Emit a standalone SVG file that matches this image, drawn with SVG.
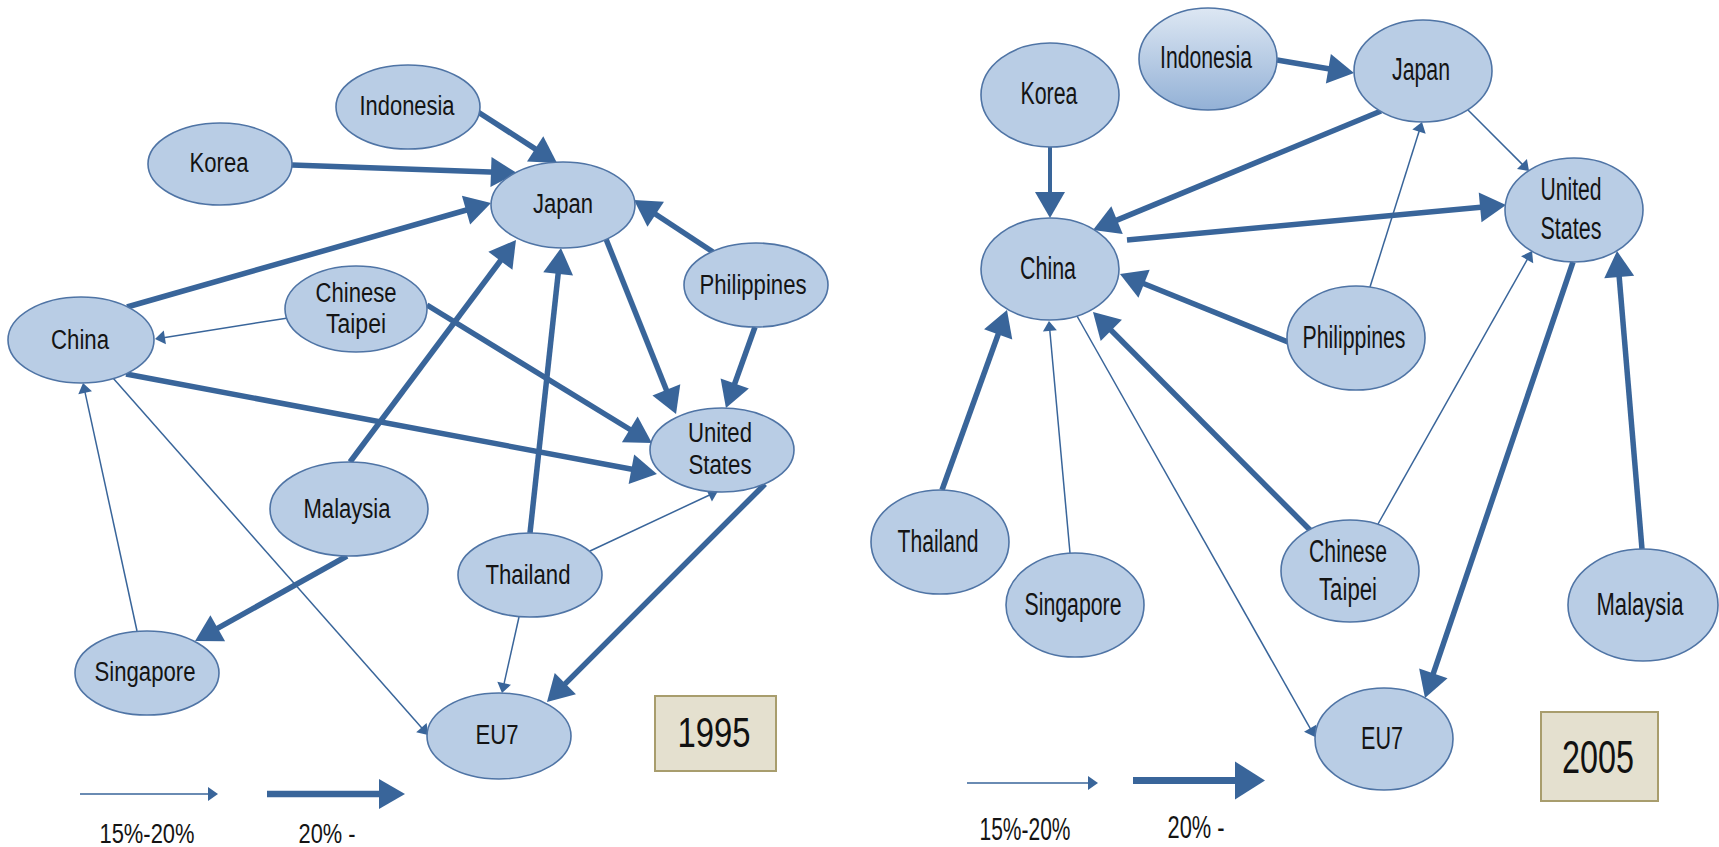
<svg xmlns="http://www.w3.org/2000/svg" width="1719" height="847" viewBox="0 0 1719 847">
<style>
.node{fill:#b9cde5;stroke:#4f74a5;stroke-width:1.6}
.lbl{font-family:"Liberation Sans",Arial,sans-serif;font-size:27px;fill:#141414;text-anchor:middle}
.lbr{font-family:"Liberation Sans",Arial,sans-serif;font-size:31px;fill:#141414;text-anchor:middle}
.thick{stroke:#39659a;stroke-width:5.5;fill:none;marker-end:url(#hThick)}
.thin{stroke:#39659a;stroke-width:1.5;fill:none;marker-end:url(#hThin)}
.year{fill:#e4e0cf;stroke:#a89d6d;stroke-width:2}
.yt{font-family:"Liberation Sans",Arial,sans-serif;fill:#111;text-anchor:middle}
</style>
<defs>
<marker id="hThick" markerUnits="userSpaceOnUse" markerWidth="26" markerHeight="30" refX="6" refY="15" orient="auto" overflow="visible">
<path d="M0,0 L26,15 L0,30 Z" fill="#39659a"/>
</marker>
<marker id="hBig" markerUnits="userSpaceOnUse" markerWidth="30" markerHeight="38" refX="6" refY="19" orient="auto" overflow="visible">
<path d="M0,0 L30,19 L0,38 Z" fill="#39659a"/>
</marker>
<marker id="hThin" markerUnits="userSpaceOnUse" markerWidth="10" markerHeight="14" refX="3" refY="7" orient="auto" overflow="visible">
<path d="M0,0 L10,7 L0,14 Z" fill="#39659a"/>
</marker>
<linearGradient id="gInd" x1="0" y1="0" x2="0" y2="1">
<stop offset="0" stop-color="#dde7f3"/>
<stop offset="1" stop-color="#93b1d6"/>
</linearGradient>
</defs>
<rect width="1719" height="847" fill="#ffffff"/>

<g id="connectors">
<!-- 1995 -->
<line class="thick" x1="478" y1="112" x2="540.2" y2="152.1"/>
<line class="thick" x1="292" y1="165" x2="497" y2="172.3"/>
<line class="thick" x1="127" y1="307" x2="471.8" y2="208.5"/>
<line class="thin" x1="288" y1="318" x2="161.9" y2="337.9"/>
<line class="thick" x1="427" y1="305" x2="634.9" y2="432.5"/>
<line class="thick" x1="713" y1="252" x2="650.7" y2="211"/>
<line class="thick" x1="606" y1="239" x2="668.6" y2="395.4"/>
<line class="thick" x1="755" y1="327" x2="732.7" y2="389.2"/>
<line class="thick" x1="126" y1="374" x2="637.3" y2="470.3"/>
<line class="thick" x1="350" y1="462" x2="504" y2="256"/>
<line class="thick" x1="530" y1="533" x2="558.8" y2="267.9"/>
<line class="thin" x1="590" y1="551" x2="711.7" y2="494"/>
<line class="thick" x1="765" y1="484" x2="561.1" y2="687.9"/>
<line class="thin" x1="519" y1="617" x2="503.5" y2="686.2"/>
<line class="thick" x1="347" y1="556" x2="212.5" y2="631.2"/>
<line class="thin" x1="137" y1="631" x2="84.5" y2="389.8"/>
<line class="thin" x1="113" y1="378" x2="423.4" y2="729.8"/>
<!-- 1995 legend -->
<line class="thin" x1="80" y1="794" x2="211" y2="794"/>
<line class="thick" style="stroke-width:6.5" x1="267" y1="794" x2="385" y2="794"/>
<!-- 2005 -->
<line class="thick" x1="1277" y1="60" x2="1334.3" y2="69.7"/>
<line class="thick" style="stroke-width:4" x1="1050" y1="147" x2="1050" y2="198"/>
<line class="thick" x1="1381" y1="111" x2="1111.5" y2="222.4"/>
<line class="thick" x1="1127" y1="240" x2="1486.1" y2="206.8"/>
<line class="thin" x1="1468" y1="110" x2="1524.1" y2="166.1"/>
<line class="thin" x1="1370" y1="287" x2="1419.9" y2="128.7"/>
<line class="thick" x1="1288" y1="342" x2="1138.5" y2="281.5"/>
<line class="thick" x1="942" y1="490" x2="1000.2" y2="328.8"/>
<line class="thin" x1="1070" y1="553" x2="1049.6" y2="328"/>
<line class="thin" x1="1077" y1="316" x2="1311.6" y2="730.9"/>
<line class="thick" x1="1311" y1="531" x2="1107.1" y2="326.2"/>
<line class="thin" x1="1378" y1="524" x2="1528.6" y2="257.1"/>
<line class="thick" x1="1573" y1="262" x2="1431.4" y2="679.1"/>
<line class="thick" x1="1642" y1="549" x2="1618.7" y2="270.9"/>
<!-- 2005 legend -->
<line class="thin" x1="967" y1="783" x2="1091" y2="783"/>
<line class="thick" style="stroke-width:7;marker-end:url(#hBig)" x1="1133" y1="780.5" x2="1241" y2="780.5"/>
</g>

<!-- 1995 nodes -->
<g id="n1995-indonesia"><ellipse class="node" cx="408" cy="107" rx="72" ry="42"/><text class="lbl" x="407" y="115" textLength="95" lengthAdjust="spacingAndGlyphs">Indonesia</text></g>
<g id="n1995-korea"><ellipse class="node" cx="220" cy="164" rx="72" ry="41"/><text class="lbl" x="219" y="172" textLength="59" lengthAdjust="spacingAndGlyphs">Korea</text></g>
<g id="n1995-japan"><ellipse class="node" cx="563" cy="205" rx="72" ry="43"/><text class="lbl" x="563" y="213" textLength="60" lengthAdjust="spacingAndGlyphs">Japan</text></g>
<g id="n1995-philippines"><ellipse class="node" cx="756" cy="285" rx="72" ry="42"/><text class="lbl" x="753" y="294" textLength="107" lengthAdjust="spacingAndGlyphs">Philippines</text></g>
<g id="n1995-chinese-taipei"><ellipse class="node" cx="356" cy="309" rx="71" ry="43"/><text class="lbl" x="356" y="302" textLength="81" lengthAdjust="spacingAndGlyphs">Chinese</text><text class="lbl" x="356" y="333" textLength="60" lengthAdjust="spacingAndGlyphs">Taipei</text></g>
<g id="n1995-china"><ellipse class="node" cx="81" cy="340" rx="73" ry="43"/><text class="lbl" x="80" y="349" textLength="58" lengthAdjust="spacingAndGlyphs">China</text></g>
<g id="n1995-united-states"><ellipse class="node" cx="722" cy="450" rx="72" ry="42"/><text class="lbl" x="720" y="442" textLength="64" lengthAdjust="spacingAndGlyphs">United</text><text class="lbl" x="720" y="474" textLength="63" lengthAdjust="spacingAndGlyphs">States</text></g>
<g id="n1995-malaysia"><ellipse class="node" cx="349" cy="509" rx="79" ry="47"/><text class="lbl" x="347" y="518" textLength="87" lengthAdjust="spacingAndGlyphs">Malaysia</text></g>
<g id="n1995-thailand"><ellipse class="node" cx="530" cy="575" rx="72" ry="42"/><text class="lbl" x="528" y="584" textLength="85" lengthAdjust="spacingAndGlyphs">Thailand</text></g>
<g id="n1995-singapore"><ellipse class="node" cx="147" cy="673" rx="72" ry="42"/><text class="lbl" x="145" y="681" textLength="101" lengthAdjust="spacingAndGlyphs">Singapore</text></g>
<g id="n1995-eu7"><ellipse class="node" cx="499" cy="736" rx="72" ry="43"/><text class="lbl" x="497" y="744" textLength="43" lengthAdjust="spacingAndGlyphs">EU7</text></g>
<g id="year-1995"><rect class="year" x="655" y="696" width="121" height="75"/><text class="yt" x="714" y="747" font-size="42" textLength="73" lengthAdjust="spacingAndGlyphs">1995</text></g>
<g id="legend-1995"><text class="lbl" x="147" y="843" textLength="95" lengthAdjust="spacingAndGlyphs">15%-20%</text><text class="lbl" x="327" y="843" textLength="57" lengthAdjust="spacingAndGlyphs">20% -</text></g>

<!-- 2005 nodes -->
<g id="n2005-korea"><ellipse class="node" cx="1050" cy="95" rx="69" ry="52"/><text class="lbr" x="1049" y="104" textLength="57" lengthAdjust="spacingAndGlyphs">Korea</text></g>
<g id="n2005-indonesia"><ellipse class="node" style="fill:url(#gInd)" cx="1208" cy="59" rx="69" ry="51"/><text class="lbr" x="1206" y="68" textLength="92" lengthAdjust="spacingAndGlyphs">Indonesia</text></g>
<g id="n2005-japan"><ellipse class="node" cx="1423" cy="71" rx="69" ry="51"/><text class="lbr" x="1421" y="80" textLength="58" lengthAdjust="spacingAndGlyphs">Japan</text></g>
<g id="n2005-united-states"><ellipse class="node" cx="1574" cy="210" rx="69" ry="52"/><text class="lbr" x="1571" y="200" textLength="61" lengthAdjust="spacingAndGlyphs">United</text><text class="lbr" x="1571" y="239" textLength="61" lengthAdjust="spacingAndGlyphs">States</text></g>
<g id="n2005-china"><ellipse class="node" cx="1050" cy="269" rx="69" ry="51"/><text class="lbr" x="1048" y="279" textLength="56" lengthAdjust="spacingAndGlyphs">China</text></g>
<g id="n2005-philippines"><ellipse class="node" cx="1356" cy="338" rx="69" ry="52"/><text class="lbr" x="1354" y="348" textLength="103" lengthAdjust="spacingAndGlyphs">Philippines</text></g>
<g id="n2005-thailand"><ellipse class="node" cx="940" cy="542" rx="69" ry="52"/><text class="lbr" x="938" y="552" textLength="81" lengthAdjust="spacingAndGlyphs">Thailand</text></g>
<g id="n2005-singapore"><ellipse class="node" cx="1075" cy="605" rx="69" ry="52"/><text class="lbr" x="1073" y="615" textLength="97" lengthAdjust="spacingAndGlyphs">Singapore</text></g>
<g id="n2005-chinese-taipei"><ellipse class="node" cx="1350" cy="571" rx="69" ry="51"/><text class="lbr" x="1348" y="562" textLength="78" lengthAdjust="spacingAndGlyphs">Chinese</text><text class="lbr" x="1348" y="600" textLength="58" lengthAdjust="spacingAndGlyphs">Taipei</text></g>
<g id="n2005-malaysia"><ellipse class="node" cx="1643" cy="605" rx="75" ry="56"/><text class="lbr" x="1640" y="615" textLength="87" lengthAdjust="spacingAndGlyphs">Malaysia</text></g>
<g id="n2005-eu7"><ellipse class="node" cx="1384" cy="739" rx="69" ry="51"/><text class="lbr" x="1382" y="749" textLength="42" lengthAdjust="spacingAndGlyphs">EU7</text></g>
<g id="year-2005"><rect class="year" x="1541" y="712" width="117" height="89"/><text class="yt" x="1598" y="773" font-size="46" textLength="72" lengthAdjust="spacingAndGlyphs">2005</text></g>
<g id="legend-2005"><text class="lbr" x="1025" y="840" textLength="91" lengthAdjust="spacingAndGlyphs">15%-20%</text><text class="lbr" x="1196" y="838" textLength="57" lengthAdjust="spacingAndGlyphs">20% -</text></g>
</svg>
